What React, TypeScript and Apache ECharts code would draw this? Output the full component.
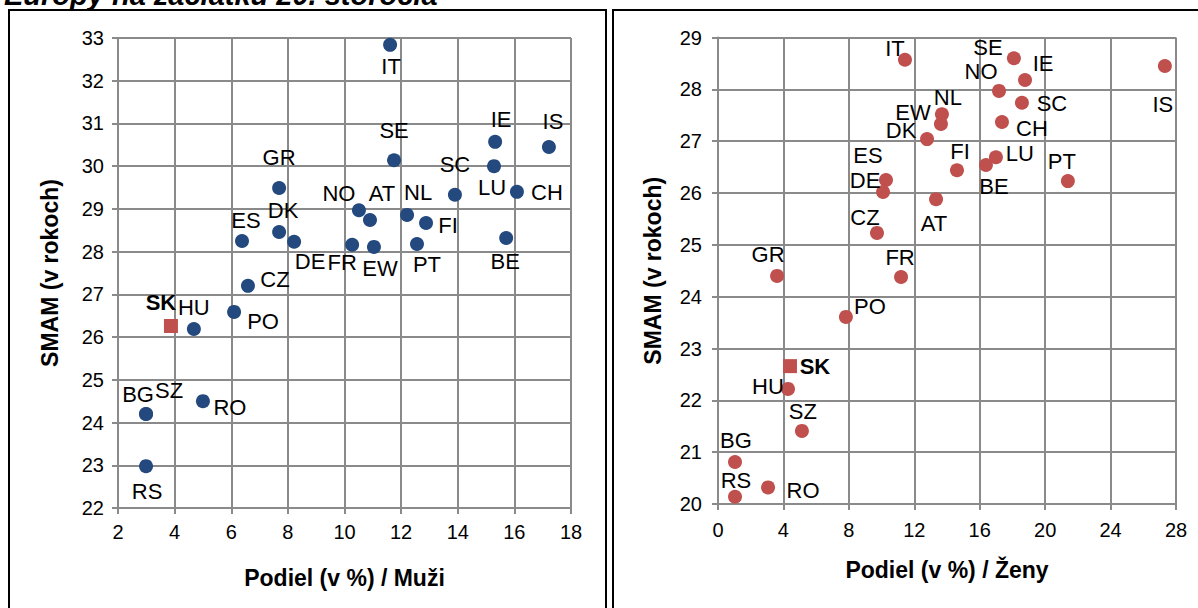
import React, { useEffect, useRef } from "react";
import * as echarts from "echarts";

// ---------- Data: men (left chart) ----------
const menCountries = ["IT", "SE", "IE", "IS", "LU", "SC", "CH", "GR", "NO", "AT", "NL", "FI", "DK", "ES", "DE", "FR", "EW", "PT", "BE", "CZ", "PO", "HU", "RO", "BG", "SZ", "RS"];
const menShare = [11.61, 11.75, 15.32, 17.22, 15.28, 13.9, 16.09, 7.69, 10.51, 10.9, 12.21, 12.88, 7.69, 6.38, 8.22, 10.27, 11.04, 12.56, 15.71, 6.59, 6.1, 4.68, 5.0, 2.99, 2.99, 2.99];
const menSmam = [32.84, 30.14, 30.57, 30.45, 30.0, 29.33, 29.4, 29.49, 28.97, 28.74, 28.86, 28.67, 28.46, 28.25, 28.23, 28.16, 28.11, 28.18, 28.32, 27.2, 26.59, 26.19, 24.5, 24.2, 24.2, 22.98];
const menSK = [3.87, 26.26];

// ---------- Data: women (right chart) ----------
const womenCountries = ["IT", "SE", "IE", "IS", "NO", "NL", "EW", "SC", "CH", "DK", "FI", "LU", "BE", "PT", "ES", "DE", "AT", "CZ", "FR", "GR", "PO", "HU", "SZ", "BG", "RO", "RS"];
const womenShare = [11.43, 18.09, 18.77, 27.32, 17.18, 13.69, 13.63, 18.58, 17.36, 12.78, 14.61, 16.99, 16.38, 21.39, 10.27, 10.09, 13.33, 9.72, 11.19, 3.61, 7.82, 4.28, 5.13, 1.04, 3.06, 1.04];
const womenSmam = [28.57, 28.6, 28.18, 28.45, 27.97, 27.52, 27.33, 27.74, 27.37, 27.04, 26.44, 26.69, 26.54, 26.23, 26.25, 26.02, 25.88, 25.23, 24.38, 24.4, 23.61, 22.22, 21.41, 20.81, 20.32, 20.14];
const womenSK = [4.4, 22.66];

// ---------- Axis ticks ----------
const menXTicks = [2, 18, 2]; // min, max, interval
const menYTicks = [22, 33, 1];
const womenXTicks = [0, 28, 4];
const womenYTicks = [20, 29, 1];

// ---------- Label placement (layout, pixel offsets of label centre from point) ----------
const menLabelOffsets: Record<string, [number, number]> = {
  IT: [1, 22], SE: [0, -30], IE: [6, -22], IS: [4, -25], LU: [-2, 21], SC: [0, -30],
  CH: [30, 1], GR: [0, -30], NO: [-20, -17], AT: [12, -27], NL: [11, -22], FI: [22, 2],
  DK: [4, -21], ES: [4, -20], DE: [16, 20], FR: [-10, 18], EW: [6, 22], PT: [10, 21],
  BE: [-1, 24], CZ: [27, -6], PO: [29, 10], HU: [0, -21], RO: [27, 6], BG: [-8, -20],
  SZ: [23, -24], RS: [1, 25], SK: [-10, -23],
};
const womenLabelOffsets: Record<string, [number, number]> = {
  IT: [-10, -11], SE: [-26, -11], IE: [18, -17], IS: [-2, 38], NO: [-18, -19], NL: [6, -17],
  EW: [-28, -12], SC: [30, 1], CH: [30, 7], DK: [-26, -9], FI: [3, -19], LU: [24, -4],
  BE: [8, 21], PT: [-6, -20], ES: [-18, -25], DE: [-18, -11], AT: [-2, 24], CZ: [-12, -15],
  FR: [-1, -19], GR: [-9, -21], PO: [24, -10], HU: [-20, -2], SZ: [1, -19], BG: [1, -22],
  RO: [35, 3], RS: [1, -16], SK: [25, 0],
};

const FONT = "Liberation Sans, Arial, sans-serif";
const GRID_COLOR = "#8a8a8a";
const BLUE = "#23497f";
const RED = "#c0504d";

function makeAxis(ticks: number[], gridIndex: number, extra: any) {
  return {
    type: "value",
    gridIndex,
    min: ticks[0],
    max: ticks[1],
    interval: ticks[2],
    axisLine: { show: true, lineStyle: { color: GRID_COLOR, width: 2 } },
    axisTick: { show: true, inside: false, length: 6, lineStyle: { color: GRID_COLOR, width: 2 } },
    splitLine: { show: true, lineStyle: { color: GRID_COLOR, width: 2 } },
    axisLabel: { color: "#000", fontSize: 20, fontFamily: FONT },
    nameTextStyle: { color: "#000", fontSize: 23, fontWeight: "bold", fontFamily: FONT },
    nameLocation: "middle",
    ...extra,
  };
}

function points(names: string[], xs: number[], ys: number[], offsets: Record<string, [number, number]>) {
  return names.map((n, i) => ({
    name: n,
    value: [xs[i], ys[i]],
    label: { offset: offsets[n] || [0, 0] },
  }));
}

const labelBase = {
  show: true,
  position: "inside",
  formatter: "{b}",
  color: "#000",
  fontSize: 22,
  fontFamily: FONT,
  textBorderWidth: 0,
};

export default function App() {
  const ref = useRef<HTMLDivElement>(null);
  useEffect(() => {
    if (!ref.current) return;
    const chart = echarts.init(ref.current, undefined, { renderer: "svg" });
    const option: any = {
      animation: false,
      backgroundColor: "#fff",
      grid: [
        { left: 118, top: 38, width: 453, height: 470 },
        { left: 718, top: 37.5, width: 458, height: 466.5 },
      ],
      xAxis: [
        makeAxis(menXTicks, 0, { name: "Podiel (v %) / Muži", nameGap: 58, axisLabel: { color: "#000", fontSize: 20, fontFamily: FONT, margin: 14 } }),
        makeAxis(womenXTicks, 1, { name: "Podiel (v %) / Ženy", nameGap: 54, axisLabel: { color: "#000", fontSize: 20, fontFamily: FONT, margin: 16 } }),
      ],
      yAxis: [
        makeAxis(menYTicks, 0, { name: "SMAM (v rokoch)", nameGap: 57, nameRotate: 90, axisLabel: { color: "#000", fontSize: 20, fontFamily: FONT, margin: 14 } }),
        makeAxis(womenYTicks, 1, { name: "SMAM (v rokoch)", nameGap: 54, nameRotate: 90, axisLabel: { color: "#000", fontSize: 20, fontFamily: FONT, margin: 16 } }),
      ],
      series: [
        {
          type: "scatter",
          xAxisIndex: 0,
          yAxisIndex: 0,
          symbol: "circle",
          symbolSize: 14,
          itemStyle: { color: BLUE, opacity: 1 },
          label: labelBase,
          data: points(menCountries, menShare, menSmam, menLabelOffsets),
        },
        {
          type: "scatter",
          xAxisIndex: 0,
          yAxisIndex: 0,
          symbol: "rect",
          symbolSize: 14,
          itemStyle: { color: RED, opacity: 1 },
          label: { ...labelBase, fontWeight: "bold" },
          data: [{ name: "SK", value: menSK, label: { offset: menLabelOffsets.SK } }],
        },
        {
          type: "scatter",
          xAxisIndex: 1,
          yAxisIndex: 1,
          symbol: "circle",
          symbolSize: 14,
          itemStyle: { color: RED, opacity: 1 },
          label: labelBase,
          data: points(womenCountries, womenShare, womenSmam, womenLabelOffsets),
        },
        {
          type: "scatter",
          xAxisIndex: 1,
          yAxisIndex: 1,
          symbol: "rect",
          symbolSize: 14,
          itemStyle: { color: RED, opacity: 1 },
          label: { ...labelBase, fontWeight: "bold" },
          data: [{ name: "SK", value: womenSK, label: { offset: womenLabelOffsets.SK } }],
        },
      ],
      graphic: [
        {
          type: "text",
          x: 4,
          y: -5,
          style: {
            text: "Európy na začiatku 20. storočia",
            fontSize: 29,
            fontWeight: "bold",
            fontStyle: "italic",
            fontFamily: FONT,
            fill: "#000",
            align: "left",
            verticalAlign: "middle",
          },
        },
        {
          type: "rect",
          shape: { x: 9, y: 10, width: 597, height: 620 },
          style: { fill: "none", stroke: "#000", lineWidth: 2 },
        },
        {
          type: "rect",
          shape: { x: 613, y: 10, width: 600, height: 620 },
          style: { fill: "none", stroke: "#000", lineWidth: 2 },
        },
      ],
    };
    chart.setOption(option);
    return () => chart.dispose();
  }, []);
  return (
    <div
      ref={ref}
      style={{ position: "fixed", left: 0, top: 0, width: 1198, height: 608 }}
    />
  );
}
